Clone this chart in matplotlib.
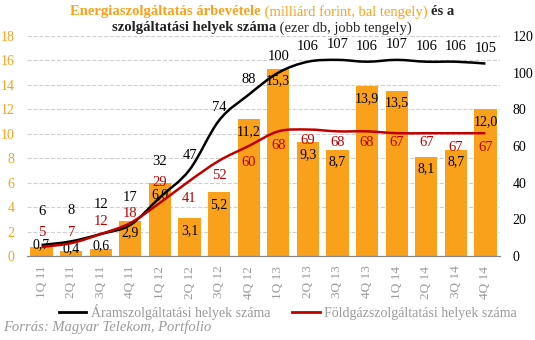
import numpy as np
import matplotlib.pyplot as plt
from matplotlib.path import Path
from matplotlib.patches import PathPatch
from matplotlib.lines import Line2D

quarters = ['1Q 11', '2Q 11', '3Q 11', '4Q 11', '1Q 12', '2Q 12', '3Q 12', '4Q 12',
            '1Q 13', '2Q 13', '3Q 13', '4Q 13', '1Q 14', '2Q 14', '3Q 14', '4Q 14']
revenue = [0.7, 0.4, 0.6, 2.9, 6.0, 3.1, 5.2, 11.2, 15.3, 9.3, 8.7, 13.9, 13.5, 8.1, 8.7, 12.0]
aram = [6, 8, 12, 17, 32, 47, 74, 88, 100, 106, 107, 106, 107, 106, 106, 105]
foldgaz = [5, 7, 12, 18, 29, 41, 52, 60, 68, 69, 68, 68, 67, 67, 67, 67]

ORANGE = '#F9A11B'
RED = '#C00000'
GRAY = '#9A9A9A'
FONT = 'Liberation Serif'

plt.rcParams['font.family'] = FONT


def smooth_path(xs, ys):
    # catmull-rom style curve, drawn as bezier segments
    pts = np.column_stack([xs, ys]).astype(float)
    n = len(pts)
    verts = [pts[0]]
    codes = [Path.MOVETO]
    for i in range(n - 1):
        p0 = pts[max(i - 1, 0)]
        p1 = pts[i]
        p2 = pts[i + 1]
        p3 = pts[min(i + 2, n - 1)]
        c1 = p1 + (p2 - p0) / 6.0
        c2 = p2 - (p3 - p1) / 6.0
        verts += [c1, c2, p2]
        codes += [Path.CURVE4] * 3
    return Path(verts, codes)


fig = plt.figure(figsize=(5.35, 3.4), dpi=100)
ax = fig.add_axes([0.05, 0.247, 0.885, 0.647])
ax2 = ax.twinx()

x = np.arange(len(quarters))
ax.bar(x, revenue, width=0.75, color=ORANGE, zorder=2)
ax.set_xlim(-0.5, len(quarters) - 0.5)
ax.set_ylim(0, 18)
ax.set_yticks(range(0, 19, 2))
ax2.set_ylim(0, 120)
ax2.set_yticks(range(0, 121, 20))

ax.grid(axis='y', color='#D0D0D0', linestyle='--', linewidth=0.8, zorder=0)
ax.set_axisbelow(True)
for a in (ax, ax2):
    for s in ('top', 'left', 'right'):
        a.spines[s].set_visible(False)
    a.spines['bottom'].set_color('#888888')
    a.tick_params(length=0)

ax.set_xticks(x)
ax.set_xticklabels(quarters, rotation=90, color=GRAY, fontsize=9.5)
ax.tick_params(axis='x', pad=7)
ax.tick_params(axis='y', colors=ORANGE, labelsize=10, pad=9)
ax2.tick_params(axis='y', colors='black', labelsize=10, pad=9)

for xi, v in zip(x, revenue):
    txt = f'{v:.1f}'.replace('.', ',')
    if v < 1.5:
        ax.annotate(txt, (xi, v), xytext=(0, 2), textcoords='offset points',
                    ha='center', va='center', fontsize=10, zorder=5)
    else:
        ax.annotate(txt, (xi, v), xytext=(0, -4), textcoords='offset points',
                    ha='center', va='top', fontsize=10, zorder=5)

ax2.add_patch(PathPatch(smooth_path(x, aram), fill=False, color='black', lw=1.8, zorder=3))
ax2.add_patch(PathPatch(smooth_path(x, foldgaz), fill=False, color=RED, lw=1.8, zorder=3))

aram_off = [24, 22, 21, 20, 26, 10, 9, 11, 12, 11, 11, 11, 11, 11, 11, 11]
gaz_off = [10, 8, 9, 7, 15, -13, -11, -12, -10, -8, -8, -8, -7, -7, -10, -10]
for xi, v, o in zip(x, aram, aram_off):
    ax2.annotate(str(v), (xi, v), xytext=(0, o), textcoords='offset points',
                 ha='center', va='center', fontsize=10.5, color='black', zorder=6)
for xi, v, o in zip(x, foldgaz, gaz_off):
    ax2.annotate(str(v), (xi, v), xytext=(0, o), textcoords='offset points',
                 ha='center', va='center', fontsize=10.5, color=RED, zorder=6)

handles = [Line2D([], [], color='black', lw=2), Line2D([], [], color=RED, lw=2)]
leg = fig.legend(handles, ['Áramszolgáltatási helyek száma', 'Földgázszolgáltatási helyek száma'],
                 loc='center', bbox_to_anchor=(0.538, 0.083), ncol=2, frameon=False,
                 fontsize=10, handlelength=2.0, columnspacing=1.6, handletextpad=0.3)
for t in leg.get_texts():
    t.set_color(GRAY)

fig.text(0.006, 0.038, 'Forrás: Magyar Telekom, Portfolio', style='italic',
         color=GRAY, fontsize=10.5, va='center')

# title made of pieces with different weights / colours
renderer = fig.canvas.get_renderer()


def title_row(pieces, y, cx=0.49):
    texts = [fig.text(0, y, s, color=c, fontweight=w, fontsize=10.5, va='center')
             for s, c, w in pieces]
    widths = [t.get_window_extent(renderer).width / fig.bbox.width for t in texts]
    pos = cx - sum(widths) / 2
    for t, w in zip(texts, widths):
        t.set_x(pos)
        pos += w


title_row([('Energiaszolgáltatás árbevétele', ORANGE, 'bold'),
           (' (milliárd forint, bal tengely) ', ORANGE, 'normal'),
           ('és a', '#222222', 'bold')], 0.965)
title_row([('szolgáltatási helyek száma', '#222222', 'bold'),
           (' (ezer db, jobb tengely)', '#222222', 'normal')], 0.918)

fig.savefig('out.png', dpi=100)
